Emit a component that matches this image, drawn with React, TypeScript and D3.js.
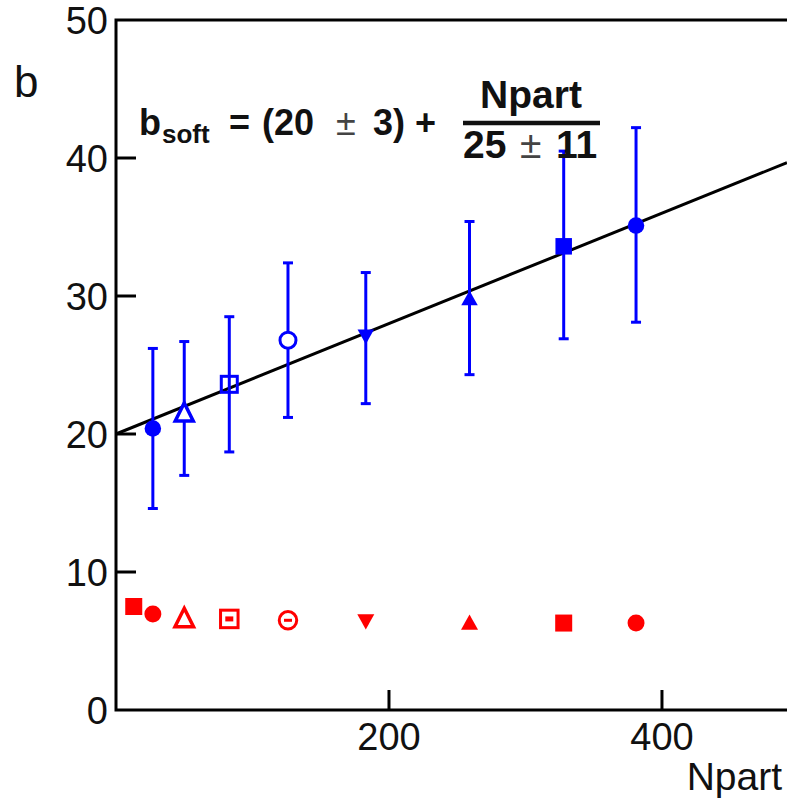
import React from "react";
import * as d3 from "d3";

// Blue points: b vs Npart with error bars
const blueNpart = [27, 50, 83, 126, 183, 259, 328, 381];
const blueB = [20.4, 21.6, 23.6, 26.8, 27.1, 29.8, 33.6, 35.1];
const blueLow = [14.6, 17.0, 18.7, 21.2, 22.2, 24.3, 26.9, 28.1];
const blueHigh = [26.2, 26.7, 28.5, 32.4, 31.7, 35.4, 40.5, 42.2];
const blueMarkers = ["circleF", "triO", "squareO", "circleO", "triDownF", "triF", "squareF", "circleF"];

// Red points: b_soft
const redNpart = [13, 27, 50, 83, 126, 183, 259, 328, 381];
const redB = [7.5, 6.95, 6.7, 6.6, 6.5, 6.45, 6.3, 6.3, 6.3];
const redMarkers = ["squareF", "circleF", "triO", "squareDot", "circleMinus", "triDownF", "triF", "squareF", "circleF"];

// Fit: b = a + Npart / c
const fitIntercept = 20;
const fitDenominator = 25;

const yTicks = [0, 10, 20, 30, 40, 50];
const xTicks = [200, 400];

const W = 787;
const H = 805;
const FONT = "'Liberation Sans', Arial, Helvetica, sans-serif";

function markerSize(kind: string) {
  if (kind === "triO") return 22;
  if (kind === "squareDot" || kind === "circleMinus") return 20;
  if (kind === "squareO" || kind === "circleO") return 19;
  return 16.5;
}

function Marker({ kind, x, y, color, s }: { kind: string; x: number; y: number; color: string; s: number }) {
  const h = s / 2;
  switch (kind) {
    case "circleF":
      return <circle cx={x} cy={y} r={h} fill={color} />;
    case "circleO":
      return <circle cx={x} cy={y} r={h - 1.5} fill="white" stroke={color} strokeWidth={3} />;
    case "circleMinus":
      return (
        <g>
          <circle cx={x} cy={y} r={h - 1.5} fill="white" stroke={color} strokeWidth={3} />
          <line x1={x - 4} x2={x + 4} y1={y} y2={y} stroke={color} strokeWidth={3} />
        </g>
      );
    case "squareF":
      return <rect x={x - h} y={y - h} width={s} height={s} fill={color} />;
    case "squareO":
      return <rect x={x - h + 1.5} y={y - h + 1.5} width={s - 3} height={s - 3} fill="none" stroke={color} strokeWidth={3} />;
    case "squareDot":
      return (
        <g>
          <rect x={x - h + 1.5} y={y - h + 1.5} width={s - 3} height={s - 3} fill="white" stroke={color} strokeWidth={3} />
          <rect x={x - 4} y={y - 2.5} width={8} height={5} fill={color} />
        </g>
      );
    case "triF": {
      const p = d3.path();
      p.moveTo(x, y - h);
      p.lineTo(x + h, y + h * 0.8);
      p.lineTo(x - h, y + h * 0.8);
      p.closePath();
      return <path d={p.toString()} fill={color} />;
    }
    case "triDownF": {
      const p = d3.path();
      p.moveTo(x, y + h);
      p.lineTo(x + h, y - h * 0.8);
      p.lineTo(x - h, y - h * 0.8);
      p.closePath();
      return <path d={p.toString()} fill={color} />;
    }
    case "triO": {
      const p = d3.path();
      p.moveTo(x, y - h + 2);
      p.lineTo(x + h - 2, y + h - 2);
      p.lineTo(x - h + 2, y + h - 2);
      p.closePath();
      return <path d={p.toString()} fill="white" stroke={color} strokeWidth={3.5} strokeLinejoin="miter" />;
    }
    default:
      return null;
  }
}

export default function App() {
  const x = d3.scaleLinear().domain([0, 491.6]).range([116, 787]);
  const y = d3.scaleLinear().domain([0, 50]).range([710, 20]);
  const [x0, x1] = x.range();
  const [y0, y1] = y.range();

  const fitLine = d3
    .line<number>()
    .x((n) => x(n))
    .y((n) => y(fitIntercept + n / fitDenominator));
  const fitPts = [0, x.domain()[1]];

  const blue = "#0000ff";
  const red = "#ff0000";
  const ink = "#111";

  return (
    <svg
      width={W}
      height={H}
      style={{ position: "absolute", left: 0, top: 0, background: "white" }}
      fontFamily={FONT}
    >
      <rect width={W} height={H} fill="white" />
      {/* frame */}
      <path d={`M${x1},${y1}H${x0}V${y0}H${x1}`} fill="none" stroke="black" strokeWidth={3} />
      {/* y ticks */}
      {yTicks.map((t) => (
        <g key={"y" + t}>
          {t > 0 && t < 50 && (
            <line x1={x0} x2={x0 + 20} y1={y(t)} y2={y(t)} stroke="black" strokeWidth={3} />
          )}
          <text x={x0 - 8} y={y(t)} dy="0.36em" textAnchor="end" fontSize={38} fill={ink}>
            {t}
          </text>
        </g>
      ))}
      {/* x ticks */}
      {xTicks.map((t) => (
        <g key={"x" + t}>
          <line x1={x(t)} x2={x(t)} y1={y0} y2={y0 - 20} stroke="black" strokeWidth={3} />
          <text x={x(t)} y={y0 + 40} textAnchor="middle" fontSize={38} fill={ink}>
            {t}
          </text>
        </g>
      ))}
      <text x={782} y={790} textAnchor="end" fontSize={39} fill={ink}>
        Npart
      </text>
      <text x={14} y={97} fontSize={44} fill={ink}>
        b
      </text>

      {/* fit line */}
      <path d={fitLine(fitPts) || ""} fill="none" stroke="black" strokeWidth={3} />

      {/* blue error bars */}
      {blueNpart.map((n, i) => (
        <g key={"be" + i} stroke={blue} strokeWidth={3}>
          <line x1={x(n)} x2={x(n)} y1={y(blueLow[i])} y2={y(blueHigh[i])} />
          <line x1={x(n) - 5} x2={x(n) + 5} y1={y(blueLow[i])} y2={y(blueLow[i])} />
          <line x1={x(n) - 5} x2={x(n) + 5} y1={y(blueHigh[i])} y2={y(blueHigh[i])} />
        </g>
      ))}
      {blueNpart.map((n, i) => (
        <Marker key={"bm" + i} kind={blueMarkers[i]} x={x(n)} y={y(blueB[i])} color={blue} s={markerSize(blueMarkers[i])} />
      ))}
      {redNpart.map((n, i) => (
        <Marker key={"rm" + i} kind={redMarkers[i]} x={x(n)} y={y(redB[i])} color={red} s={markerSize(redMarkers[i]) + 0.5} />
      ))}

      {/* equation */}
      <g fontWeight="bold" fill={ink}>
        <text x={139} y={135} fontSize={36}>b</text>
        <text x={162} y={143} fontSize={26}>soft</text>
        <text x={229} y={135} fontSize={36}>=</text>
        <text x={262} y={135} fontSize={36}>(20</text>
        <text x={336} y={135} fontSize={36} fontWeight="normal" fill="#444">±</text>
        <text x={373} y={135} fontSize={36}>3)</text>
        <text x={415} y={135} fontSize={36}>+</text>
      </g>
      <line x1={463} x2={600} y1={123} y2={123} stroke={ink} strokeWidth={4.5} />
      <text x={531} y={108} textAnchor="middle" fontSize={39} fontWeight="bold" fill={ink}>
        Npart
      </text>
      <g fontWeight="bold" fill={ink} fontSize={39}>
        <text x={463} y={158}>25</text>
        <text x={520} y={158} fontWeight="normal" fill="#444">±</text>
        <text x={556} y={158}>11</text>
      </g>
    </svg>
  );
}
